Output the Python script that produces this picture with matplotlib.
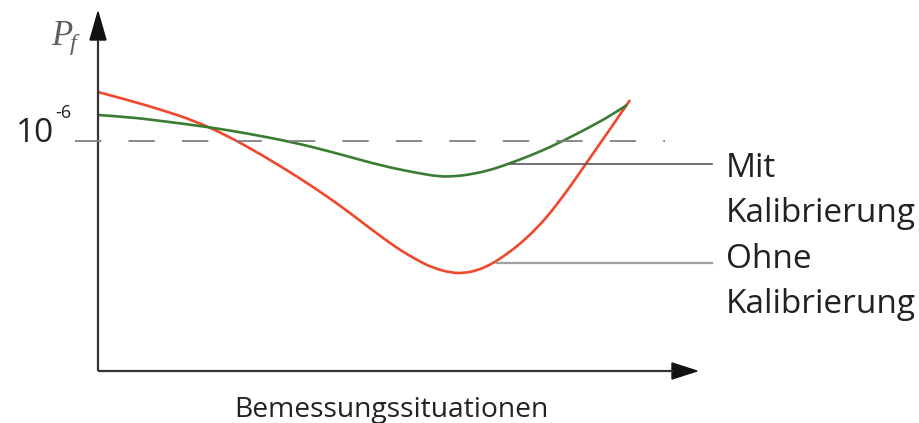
import matplotlib
matplotlib.use("Agg")
import matplotlib.pyplot as plt
from matplotlib.patches import Polygon, PathPatch
from matplotlib.path import Path

plt.rcParams["lines.scale_dashes"] = False
plt.rcParams["mathtext.fontset"] = "custom"
plt.rcParams["mathtext.it"] = "Liberation Serif:italic"
plt.rcParams["mathtext.rm"] = "Liberation Serif"

# Failure probability P_f over design situations (relative units, schematic)
x_ohne = [0, 30, 64, 97, 130, 164, 200, 230, 252, 269, 285, 302, 319, 335,
          354, 367, 379, 391, 402, 416, 429, 441, 452, 469, 485, 502, 517, 532]
y_ohne = [279, 271, 261, 250, 235, 216, 194, 174, 158, 145, 133, 121, 111, 103,
          98, 98, 100.6, 105.6, 112.2, 122.3, 133.3, 145.3, 157.7, 180, 203,
          227.5, 249, 271]

x_mit = [0, 30, 64, 110, 147, 194, 230, 252, 285, 319, 342, 357, 369, 389,
         409, 439, 465, 492, 512, 529]
y_mit = [256, 254, 250, 244, 238, 229, 220, 214, 205, 198, 194.3, 194.8, 196, 200,
         206.5, 218, 230, 244, 255, 266]

limit_level = 230          # 10^-6
limit_label = ["10", "-6"]
series_labels = [("Mit", "Kalibrierung"), ("Ohne", "Kalibrierung")]
x_label = "Bemessungssituationen"

RED = "#f0482a"
GREEN = "#3a7d32"
AXIS = "#333333"
TEXT = "#222222"


def smooth_path(xs, ys):
    """Quadratic Bezier path using the given points as control points."""
    pts = list(zip(xs, ys))
    verts = [pts[0]]
    codes = [Path.MOVETO]
    for i in range(1, len(pts) - 1):
        nxt = pts[i + 1] if i == len(pts) - 2 else (
            (pts[i][0] + pts[i + 1][0]) / 2, (pts[i][1] + pts[i + 1][1]) / 2)
        verts += [pts[i], nxt]
        codes += [Path.CURVE3, Path.CURVE3]
    return Path(verts, codes)


W, H = 919, 423
fig = plt.figure(figsize=(W / 100, H / 100), dpi=100)
ox, oy = 98, 371          # origin in pixels
xt, yt = 697, 12          # arrow tips in pixels
ax = fig.add_axes([ox / W, (H - oy) / H, (xt - ox) / W, (oy - yt) / H])
ax.set_xlim(0, xt - ox)
ax.set_ylim(0, oy - yt)
ax.axis("off")

# axes with arrow heads
ax.plot([0, 0], [0, 331], color=AXIS, lw=1.6, clip_on=False, solid_capstyle="butt")
ax.plot([0, 575], [0, 0], color=AXIS, lw=1.6, clip_on=False, solid_capstyle="butt")
ax.add_patch(Polygon([[0, 359], [-8, 331], [8, 331]], closed=True,
                     color="#111111", clip_on=False))
ax.add_patch(Polygon([[599, 0], [574, 8], [574, -8]], closed=True,
                     color="#111111", clip_on=False))

# 10^-6 reference level
ax.plot([-23, 567], [limit_level, limit_level], color="#808080", lw=1.3,
        linestyle=(0, (19, 19.5)), clip_on=False)

# curves
for xs, ys, col in [(x_ohne, y_ohne, RED), (x_mit, y_mit, GREEN)]:
    ax.add_patch(PathPatch(smooth_path(xs, ys), facecolor="none", edgecolor=col,
                           lw=1.9, clip_on=False, capstyle="butt"))

# leader lines
ax.plot([412, 614], [207, 207], color="#5a5a5a", lw=1.2, clip_on=False)
ax.plot([399, 614], [108, 108], color="#a0a0a0", lw=1.6, clip_on=False)

font = "Open Sans"
for (line1, line2), y1, y2 in [(series_labels[0], 194, 149),
                               (series_labels[1], 103, 58)]:
    ax.text(628, y1, line1, fontsize=24, family=font, color=TEXT,
            va="baseline", ha="left", clip_on=False)
    ax.text(628, y2, line2, fontsize=24, family=font, color=TEXT,
            va="baseline", ha="left", clip_on=False)

# y tick label 10^-6
ax.text(-44, 229, limit_label[0], fontsize=24, family=font, color=TEXT,
        va="baseline", ha="right", clip_on=False)
ax.text(-43, 253, limit_label[1], fontsize=13, family=font, color=TEXT,
        va="baseline", ha="left", clip_on=False)

# axis titles
ax.text(-47, 326, r"$P_{\!f}$", fontsize=25, color="#606060",
        va="baseline", ha="left", clip_on=False)
ax.text(293, -46, x_label, fontsize=20.3, family=font, color=TEXT,
        va="baseline", ha="center", clip_on=False)

fig.savefig("out.png", dpi=100, facecolor="white")
